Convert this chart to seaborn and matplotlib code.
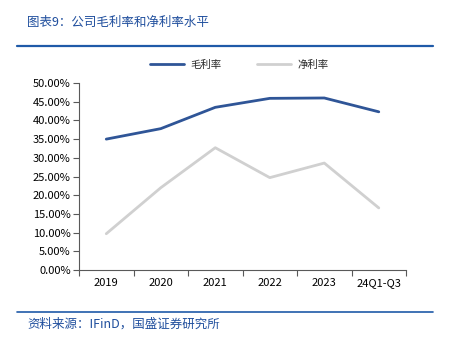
import matplotlib
matplotlib.use("Agg")
import matplotlib.pyplot as plt
import seaborn as sns
import pandas as pd
import numpy as np
from matplotlib.ticker import FuncFormatter, FixedLocator

sns.set_theme(style="white")
plt.rcParams['font.family'] = ['Noto Sans CJK SC', 'DejaVu Sans']

categories = ["2019", "2020", "2021", "2022", "2023", "24Q1-Q3"]
gross_margin = [35.0, 37.8, 43.5, 45.9, 46.0, 42.3]
net_margin = [9.7, 22.0, 32.7, 24.7, 28.6, 16.6]
series_names = ["毛利率", "净利率"]

df = pd.DataFrame({
    "x": list(range(len(categories))) * 2,
    "value": gross_margin + net_margin,
    "series": [series_names[0]] * len(categories) + [series_names[1]] * len(categories),
})

fig = plt.figure(figsize=(4.5, 3.39), dpi=100)
ax = fig.add_axes([0.1756, 0.2035, 0.7267, 0.5516])

sns.lineplot(data=df, x="x", y="value", hue="series", hue_order=series_names,
             palette=["#2F5597", "#D0D0D0"], linewidth=2.0, ax=ax, legend=True)

ax.set_xlim(-0.5, len(categories) - 0.5)
ax.set_ylim(0, 50)
ax.set_yticks(np.arange(0, 50.01, 5))
ax.yaxis.set_major_formatter(FuncFormatter(lambda v, p: f"{v:.2f}%"))
ax.set_xticks(range(len(categories)))
ax.set_xticklabels(categories)
ax.xaxis.set_minor_locator(FixedLocator(np.arange(-0.5, len(categories), 1)))
ax.tick_params(axis="x", which="major", length=0, labelsize=8, pad=6, colors="#000000")
ax.tick_params(axis="x", which="minor", length=4, width=0.8, color="#595959", direction="out", bottom=True)
ax.tick_params(axis="y", length=4, width=0.8, color="#595959", direction="out", left=True, labelsize=8, colors="#000000", pad=2)
ax.set_xlabel("")
ax.set_ylabel("")
for s in ["top", "right"]:
    ax.spines[s].set_visible(False)
for s in ["left", "bottom"]:
    ax.spines[s].set_color("#595959")
    ax.spines[s].set_linewidth(0.8)

leg = ax.legend(loc="lower center", bbox_to_anchor=(0.49, 1.02), ncol=2, frameon=False,
                fontsize=7.5, handlelength=3.2, columnspacing=3.5, handletextpad=0.6)
for h in leg.get_lines():
    h.set_linewidth(2.0)

# header / footer
fig.text(0.06, 0.935, "图表9：公司毛利率和净利率水平", color="#1F4E9D", fontsize=9,
         style="italic", va="center", ha="left")
fig.add_artist(plt.Line2D([0.038, 0.962], [0.864, 0.864], color="#1F5AA8", linewidth=1.6,
                          transform=fig.transFigure))
fig.add_artist(plt.Line2D([0.038, 0.962], [0.080, 0.080], color="#1F5AA8", linewidth=1.2,
                          transform=fig.transFigure))
fig.text(0.06, 0.043, "资料来源：IFinD，国盛证券研究所", color="#1F4E9D", fontsize=9,
         style="italic", va="center", ha="left")

fig.savefig("out.png", dpi=100)
